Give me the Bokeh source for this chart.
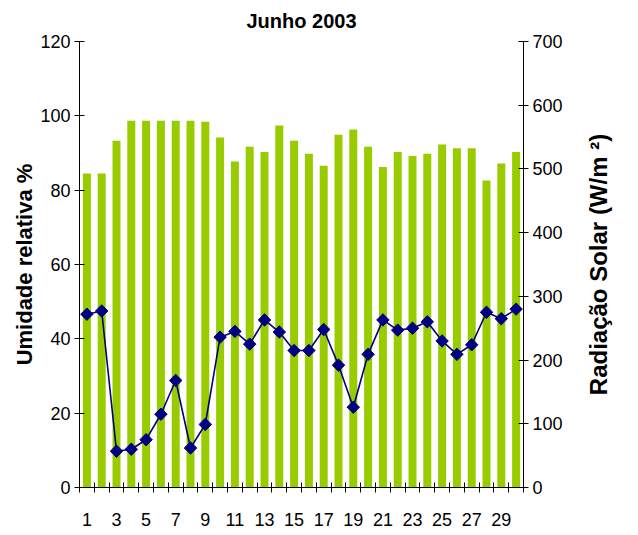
import math
from bokeh.plotting import figure
from bokeh.models import Range1d, LinearAxis, FixedTicker
from bokeh.layouts import row
from bokeh.embed import file_html
from bokeh.resources import INLINE

days = list(range(1, 31))
umidade = [84.5, 84.5, 93.3, 98.7, 98.7, 98.7, 98.7, 98.7, 98.4, 94.2,
           87.7, 91.7, 90.3, 97.4, 93.3, 89.8, 86.6, 94.9, 96.3, 91.7,
           86.2, 90.3, 89.2, 89.8, 92.3, 91.3, 91.3, 82.6, 87.2, 90.3]
radiacao = [272, 277, 57, 60, 75, 115, 168, 62, 99, 236,
            245, 225, 263, 244, 215, 215, 248, 192, 126, 209,
            263, 247, 250, 260, 230, 209, 224, 275, 265, 280]
x_labels = [1, 3, 5, 7, 9, 11, 13, 15, 17, 19, 21, 23, 25, 27, 29]
left_ticks = [0, 20, 40, 60, 80, 100, 120]
right_ticks = [0, 100, 200, 300, 400, 500, 600, 700]

FONT = "Liberation Sans"

p = figure(width=565, height=530, output_backend="svg", toolbar_location=None,
           x_range=Range1d(0.5, 30.5), y_range=Range1d(0, 120),
           min_border_left=79, min_border_right=41, min_border_top=41, min_border_bottom=43,
           title="Junho 2003")
p.extra_y_ranges = {"rad": Range1d(0, 700)}
p.outline_line_color = None
p.grid.visible = False
p.background_fill_color = "white"
p.border_fill_color = "white"

p.title.align = "center"
p.title.vertical_align = "top"
p.title.standoff = 16
p.title.text_font = FONT
p.title.text_font_size = "20px"
p.title.text_font_style = "bold"
p.title.text_color = "black"

p.vbar(x=days, top=umidade, width=0.54, fill_color="#99CC00", line_color=None)
p.line(x=days, y=radiacao, line_color="#000080", line_width=1.6, y_range_name="rad")
p.scatter(x=days, y=radiacao, marker="square", size=8.8, angle=math.pi / 4,
          fill_color="#000080", line_color="#000080", y_range_name="rad")

xa = p.xaxis[0]
xa.ticker = FixedTicker(ticks=x_labels, minor_ticks=[i + 0.5 for i in range(0, 31)])
xa.major_tick_line_color = None
xa.major_tick_out = 5
xa.major_tick_in = 0
xa.minor_tick_in = 5
xa.minor_tick_out = 5
xa.minor_tick_line_color = "black"
xa.major_label_text_font = FONT
xa.major_label_text_font_size = "18px"
xa.major_label_text_color = "black"
xa.major_label_standoff = 20
xa.axis_line_color = "black"

ya = p.yaxis[0]
ya.ticker = FixedTicker(ticks=left_ticks)
ya.major_tick_in = 5
ya.major_tick_out = 5
ya.major_tick_line_color = "black"
ya.axis_line_color = "black"
ya.minor_tick_line_color = None
ya.major_label_text_font = FONT
ya.major_label_text_font_size = "18px"
ya.major_label_text_color = "black"
ya.major_label_standoff = 4
ya.axis_label = "Umidade relativa %"
ya.axis_label_text_font = FONT
ya.axis_label_text_font_size = "22px"
ya.axis_label_text_font_style = "bold"
ya.axis_label_text_color = "black"
ya.axis_label_standoff = 0

ra = LinearAxis(y_range_name="rad", ticker=FixedTicker(ticks=right_ticks))
ra.major_tick_in = 5
ra.major_tick_out = 5
ra.major_tick_line_color = "black"
ra.axis_line_color = "black"
ra.minor_tick_line_color = None
ra.major_label_text_font = FONT
ra.major_label_text_font_size = "18px"
ra.major_label_text_color = "black"
ra.major_label_standoff = 4
p.add_layout(ra, "right")

# narrow companion figure that carries the right-hand axis title (reads bottom-to-top)
p2 = figure(width=65, height=530, output_backend="svg", toolbar_location=None,
            x_range=Range1d(0, 1), y_range=Range1d(0, 700),
            min_border_left=50, min_border_right=0, min_border_top=41, min_border_bottom=43)
p2.outline_line_color = None
p2.grid.visible = False
p2.xaxis.visible = False
p2.background_fill_color = "white"
p2.border_fill_color = "white"
la = p2.yaxis[0]
la.ticker = FixedTicker(ticks=[])
la.axis_line_color = None
la.major_tick_line_color = None
la.minor_tick_line_color = None
la.major_tick_in = 0
la.major_tick_out = 0
la.minor_tick_in = 0
la.minor_tick_out = 0
la.axis_label = "Radiação Solar (W/m ²)"
la.axis_label_text_font = FONT
la.axis_label_text_font_size = "24px"
la.axis_label_text_font_style = "bold"
la.axis_label_text_color = "black"
la.axis_label_standoff = 4

layout = row(p, p2, spacing=0)
open("out.html", "w").write(file_html(layout, INLINE))
